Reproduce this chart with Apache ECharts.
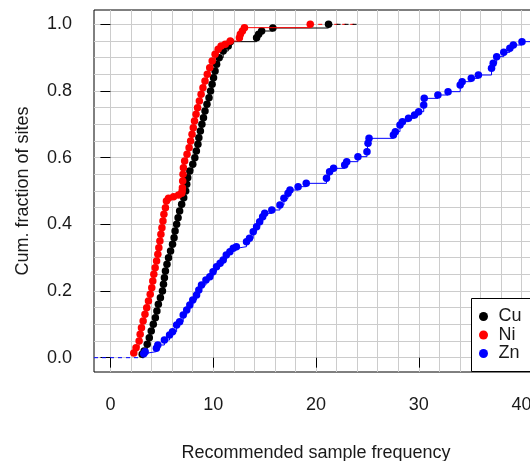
<!DOCTYPE html>
<html><head><meta charset="utf-8">
<script src="https://cdn.jsdelivr.net/npm/echarts@6/dist/echarts.min.js"></script>
<style>html,body{margin:0;padding:0;background:#fff}#c{width:530px;height:461px}</style>
</head><body><div id="c"></div>
<script>
const seriesNames = ['Cu', 'Ni', 'Zn'];
const seriesColors = ['#000000', '#ff0000', '#0000ff'];

const cuX = [3.09,3.28,3.58,3.78,3.97,4.17,4.37,4.52,4.66,4.86,5.06,5.16,5.25,5.35,5.50,5.65,5.85,6.04,6.19,6.29,6.44,6.58,6.73,6.93,7.13,7.32,7.42,7.52,7.72,8.01,8.21,8.36,8.51,8.60,8.75,8.90,9.05,9.20,9.39,9.59,9.74,9.89,10.03,10.18,10.33,10.58,10.97,11.46,11.66,14.22,14.42,14.71,15.80,21.22];
const cuY = [0.01,0.02,0.04,0.06,0.08,0.10,0.12,0.14,0.16,0.18,0.20,0.22,0.24,0.26,0.28,0.30,0.32,0.34,0.36,0.38,0.40,0.42,0.44,0.46,0.48,0.50,0.52,0.54,0.56,0.58,0.60,0.62,0.64,0.66,0.68,0.70,0.72,0.74,0.76,0.78,0.80,0.82,0.84,0.86,0.88,0.90,0.92,0.935,0.948,0.96,0.97,0.98,0.989,1.0];

const niX = [2.27,2.49,2.79,2.89,3.02,3.18,3.36,3.53,3.70,3.87,4.02,4.12,4.22,4.35,4.49,4.61,4.71,4.81,4.91,5.01,5.11,5.20,5.35,5.45,5.65,6.14,6.63,6.93,6.98,7.00,7.03,7.06,7.10,7.22,7.45,7.65,7.80,7.94,8.06,8.18,8.33,8.48,8.65,8.82,9.00,9.20,9.42,9.66,9.90,10.18,10.48,10.77,11.17,11.66,12.55,12.64,12.84,13.04,19.44];
const niY = [0.014,0.03,0.05,0.07,0.09,0.11,0.13,0.15,0.17,0.19,0.21,0.23,0.25,0.27,0.29,0.31,0.33,0.35,0.37,0.39,0.41,0.43,0.45,0.47,0.478,0.483,0.488,0.493,0.50,0.51,0.53,0.55,0.57,0.59,0.61,0.63,0.65,0.67,0.69,0.71,0.73,0.75,0.77,0.79,0.81,0.83,0.85,0.87,0.89,0.91,0.925,0.935,0.94,0.95,0.96,0.97,0.98,0.99,1.0];

const znX = [3.24,3.38,4.47,4.61,5.25,5.75,6.04,6.44,6.73,7.08,7.42,7.72,8.01,8.38,8.60,8.86,9.29,9.67,9.98,10.32,10.67,10.97,11.27,11.62,11.95,12.25,13.24,13.53,13.89,14.22,14.52,14.81,15.01,15.70,16.49,16.88,17.28,17.47,18.26,19.05,21.02,21.32,21.71,22.79,22.99,24.08,24.96,25.06,25.16,27.53,27.72,28.17,28.41,29.00,29.59,29.99,30.48,30.53,31.86,32.85,34.03,34.22,35.11,35.80,37.08,37.24,37.58,38.27,38.86,39.20,40.04,42.0];
const znY = [0.012,0.018,0.028,0.038,0.053,0.068,0.078,0.098,0.108,0.128,0.143,0.158,0.173,0.188,0.203,0.218,0.233,0.243,0.258,0.273,0.283,0.293,0.308,0.318,0.328,0.333,0.348,0.358,0.378,0.393,0.408,0.423,0.433,0.443,0.458,0.478,0.493,0.503,0.513,0.523,0.538,0.558,0.568,0.578,0.588,0.603,0.618,0.643,0.658,0.668,0.678,0.698,0.708,0.718,0.728,0.738,0.758,0.778,0.788,0.798,0.818,0.828,0.838,0.848,0.868,0.883,0.903,0.916,0.928,0.938,0.948,0.958];

// dashed extensions of the step functions beyond the first / last knot
const extEnd = 24.0;

const xTicks = [0, 10, 20, 30, 40];
const yTicks = [0, 0.2, 0.4, 0.6, 0.8, 1.0];
const xTitle = 'Recommended sample frequency';
const yTitle = 'Cum. fraction of sites';

const xMin = -1.6, xMax = 41.6, yMin = -0.043, yMax = 1.043;
const xGridVals = []; for (let v = 0; v <= 40; v += 2) xGridVals.push(v);
const yGridVals = []; for (let i = 0; i <= 20; i++) yGridVals.push(+(i * 0.05).toFixed(2));

const FONT = 'Liberation Sans, Arial, sans-serif';
const TXT = '#1a1a1a';
const pairs = (xs, ys) => xs.map((x, i) => [x, ys[i]]);

const data = [pairs(cuX, cuY), pairs(niX, niY), pairs(znX, znY)];

const mainSeries = seriesNames.map((n, i) => ({
  name: n, type: 'line', step: 'end', data: data[i],
  xAxisIndex: 0, yAxisIndex: 0,
  symbol: 'circle', symbolSize: 7.5, showSymbol: true,
  itemStyle: { color: seriesColors[i] },
  lineStyle: { color: seriesColors[i], width: 1 },
  emphasis: { disabled: true }, clip: true, z: 3 + i
}));

const extSeries = [
  { data: [[xMin, 0], [znX[0], 0]], color: seriesColors[2] },
  { data: [[niX[niX.length - 1], 1], [extEnd, 1]], color: seriesColors[1] },
  { data: [[cuX[cuX.length - 1], 1], [extEnd, 1]], color: seriesColors[0] }
].map((e, i) => ({
  name: 'ext' + i, type: 'line', data: e.data, symbol: 'none',
  lineStyle: { color: e.color, width: 1, type: [4, 4] },
  emphasis: { disabled: true }, z: 2, silent: true
}));

const chart = echarts.init(document.getElementById('c'), null, { renderer: 'canvas' });
chart.setOption({
  animation: false,
  backgroundColor: '#fff',
  grid: { left: 94, right: -8, top: 10, bottom: 89, containLabel: false, outerBoundsMode: 'none',
          show: true, borderColor: '#000', borderWidth: 1, backgroundColor: 'transparent' },
  legend: {
    data: seriesNames, orient: 'vertical', left: 471.5, top: 298.5,
    icon: 'circle', itemWidth: 20, itemHeight: 9, itemGap: 0.5,
    padding: [9, 80, 9, 7.5],
    backgroundColor: '#fff', borderColor: '#000', borderWidth: 1, borderRadius: 0,
    textStyle: { fontFamily: FONT, fontSize: 18, color: TXT, lineHeight: 18 },
    selectedMode: false
  },
  xAxis: [
    { type: 'value', min: xMin, max: xMax, position: 'bottom',
      axisLine: { show: false },
      axisTick: { show: true, length: 10, customValues: xTicks, lineStyle: { color: '#000', width: 1 } },
      axisLabel: { customValues: xTicks, fontFamily: FONT, fontSize: 18, color: TXT, margin: 24 },
      splitLine: { show: false },
      name: xTitle, nameLocation: 'middle', nameGap: 72,
      nameTextStyle: { fontFamily: FONT, fontSize: 18, color: TXT } },
    { type: 'value', min: xMin, max: xMax, position: 'top',
      axisLine: { show: false }, axisTick: { show: false, customValues: xGridVals },
      axisLabel: { show: false, customValues: xGridVals },
      splitLine: { show: true, lineStyle: { color: '#cccccc', width: 1 } } }
  ],
  yAxis: [
    { type: 'value', min: yMin, max: yMax, position: 'left',
      axisLine: { show: false },
      axisTick: { show: true, length: 10, customValues: yTicks, lineStyle: { color: '#000', width: 1 } },
      axisLabel: { customValues: yTicks, fontFamily: FONT, fontSize: 18, color: TXT, margin: 22,
                   formatter: v => v.toFixed(1) },
      splitLine: { show: false },
      name: yTitle, nameLocation: 'middle', nameGap: 62, nameRotate: 90,
      nameTextStyle: { fontFamily: FONT, fontSize: 18, color: TXT } },
    { type: 'value', min: yMin, max: yMax, position: 'right',
      axisLine: { show: false }, axisTick: { show: false, customValues: yGridVals },
      axisLabel: { show: false, customValues: yGridVals },
      splitLine: { show: true, lineStyle: { color: '#cccccc', width: 1 } } }
  ],
  series: extSeries.concat(mainSeries)
});
</script>
</body></html>
